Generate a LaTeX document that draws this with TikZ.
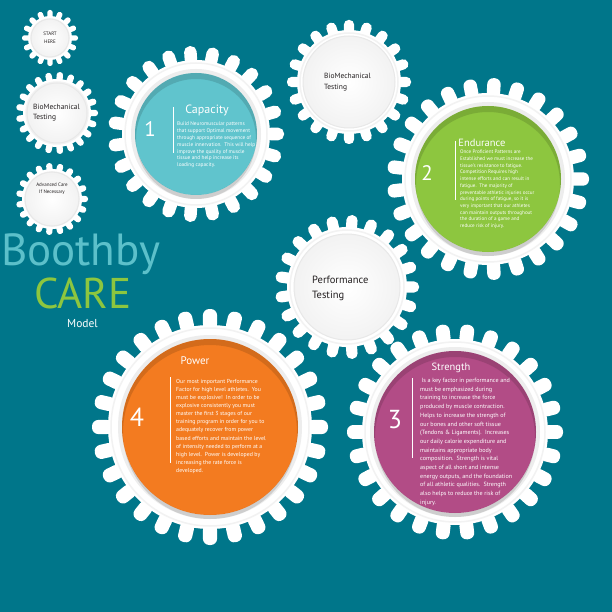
\documentclass[tikz,border=0pt]{standalone}
\usepackage{fontspec}
\setmainfont{PT Sans}
\usepackage{tikz}
\usetikzlibrary{calc}
\definecolor{bgteal}{RGB}{0,118,138}
\definecolor{capcyan}{RGB}{96,196,205}
\definecolor{endgreen}{RGB}{141,198,63}
\definecolor{poworange}{RGB}{243,123,32}
\definecolor{strmagenta}{RGB}{178,76,134}
\definecolor{brandteal}{RGB}{92,192,202}
\definecolor{darktext}{RGB}{35,31,32}
% 歯車: 中心, 歯数, 本体半径, 歯先半径
\newcommand{\cog}[4]{%
  \begin{scope}[shift={#1}]
    \pgfmathsetmacro{\cogw}{0.62*3.1416*#3/#2}
    \pgfmathsetmacro{\cogr}{0.9*\cogw}
    \fill[white] (0,0) circle (#3);
    \foreach \k in {1,...,#2}
      \fill[white,rotate=\k*360/#2,rounded corners=\cogr pt] (#3-5,-\cogw) rectangle (#4,\cogw);
    \draw[gray!10,line width=1.5pt] (0,0) circle (#3-3);
  \end{scope}}
% 色付きの円: 中心, 半径, 色
\newcommand{\stepdisk}[3]{%
  \fill[gray!14] #1 circle (#2+4);
  \fill[#3] #1 circle (#2);
  \fill[black,opacity=0.13,even odd rule] #1 circle (#2) ($#1+(0,5)$) circle (#2-1);}
% 白い円: 中心, 半径
\newcommand{\plate}[2]{%
  \shade[inner color=white,outer color=gray!10] #1 circle (#2);
  \draw[gray!18,line width=1pt] #1 circle (#2);}

\begin{document}
\begin{tikzpicture}[x=1pt,y=-1pt,
  numtext/.style={text=white,inner sep=0pt,font=\fontsize{21}{21}\selectfont},
  headtext/.style={text=white,inner sep=0pt},
  bodytext/.style={text=white,align=left,inner sep=0pt,anchor=north west},
  graytext/.style={text=darktext,inner sep=0pt}]
  % 背景
  \fill[bgteal] (0,0) rectangle (612,612);
  \useasboundingbox (0,0) rectangle (612,612);
  % 左の小さな歯車
  \cog{(50,38)}{16}{22}{28}
  \plate{(50,38)}{19}
  \cog{(57,113)}{21}{34}{41}
  \plate{(57,113)}{30}
  \cog{(52,199)}{19}{30}{36}
  \plate{(52,199)}{27}
  % 大きな歯車
  \cog{(196,134)}{23}{74}{88}
  \stepdisk{(196,134)}{61}{capcyan}
  \cog{(349,82)}{20}{52}{62}
  \plate{(349,82)}{46}
  \cog{(488,179)}{25}{86}{101}
  \stepdisk{(488,179)}{73}{endgreen}
  \cog{(347,287)}{21}{60}{72}
  \plate{(347,287)}{53}
  \cog{(210,427)}{28}{102}{118}
  \stepdisk{(210,427)}{88}{poworange}
  \cog{(455,432)}{26}{93}{108}
  \stepdisk{(455,432)}{81}{strmagenta}
  % 小さな歯車の文字
  \node[graytext,align=center,font=\fontsize{5}{8}\selectfont] (start) at (50,38) {START\\HERE};
  \node[graytext,align=left,anchor=west,font=\fontsize{7.5}{10}\selectfont] (bio-left) at (33,113) {BioMechanical\\Testing};
  \node[graytext,align=center,font=\fontsize{5}{7}\selectfont] (advanced) at (52,189) {Advanced Care\\If Necessary};
  \node[graytext,align=left,anchor=west,font=\fontsize{7.5}{11}\selectfont] (bio-top) at (324,82) {BioMechanical\\Testing};
  \node[graytext,align=left,anchor=west,font=\fontsize{10.5}{15}\selectfont] (perf) at (312,288) {Performance\\Testing};
  % タイトル
  \node[anchor=base west,inner sep=0pt,text=brandteal,font=\fontsize{45}{45}\selectfont] (brand) at (1,265) {Boothby};
  \node[anchor=base west,inner sep=0pt,text=endgreen,font=\fontsize{43}{43}\selectfont] (care) at (34,308) {CARE};
  \node[anchor=base west,inner sep=0pt,text=white,font=\fontsize{11.5}{11.5}\selectfont] (model) at (67,327) {Model};
  % 1 Capacity
  \node[numtext] (num1) at (150,129) {1};
  \node[headtext,font=\fontsize{12}{12}\selectfont] (cap-head) at (207,110) {Capacity};
  \draw[white,line width=0.7pt] (173,107) -- (173,153);
  \node[bodytext,font=\fontsize{5.3}{6.8}\selectfont] (cap-text) at (177,122)
    {Build Neuromuscular patterns\\that support Optimal movement\\through appropriate sequence of\\muscle innervation.\ \ This will help\\improve the quality of muscle\\tissue and help increase its\\loading capacity.};
  % 2 Endurance
  \node[numtext] (num2) at (427,173) {2};
  \node[headtext,font=\fontsize{10.5}{10.5}\selectfont] (end-head) at (482,143) {Endurance};
  \draw[white,line width=0.7pt] (455,141) -- (455,200);
  \node[bodytext,font=\fontsize{5.1}{6.7}\selectfont] (end-text) at (460,150)
    {Once Proficient Patterns are\\Established we must increase the\\tissue's resistance to fatigue.\\Competition Requires high\\intense efforts and can result in\\fatigue.\ \ The majority of\\preventable athletic injuries occur\\during points of fatigue, so it is\\very important that our athletes\\can maintain outputs throughout\\the duration of a game and\\reduce risk of injury.};
  % 3 Strength
  \node[numtext,font=\fontsize{26}{26}\selectfont] (num3) at (395,420) {3};
  \node[headtext,font=\fontsize{10.5}{10.5}\selectfont] (str-head) at (451,368) {Strength};
  \draw[white,line width=0.7pt] (412,378) -- (412,458);
  \node[bodytext,font=\fontsize{6.1}{8.7}\selectfont] (str-text) at (420,378)
    {\hspace{1.5pt}Is a key factor in performance and\\must be emphasized during\\training to increase the force\\produced by muscle contraction.\\Helps to increase the strength of\\our bones and other soft tissue\\(Tendons \& Ligaments).\ \ Increases\\our daily calorie expenditure and\\maintains appropriate body\\composition.\ \ Strength is vital\\aspect of all short and intense\\energy outputs, and the foundation\\of all athletic qualities.\ \ Strength\\also helps to reduce the risk of\\injury.};
  % 4 Power
  \node[numtext,font=\fontsize{26}{26}\selectfont] (num4) at (137,417) {4};
  \node[headtext,font=\fontsize{11}{11}\selectfont] (pow-head) at (195,361) {Power};
  \draw[white,line width=0.7pt] (170,377) -- (170,463);
  \node[bodytext,font=\fontsize{5.8}{8.1}\selectfont] (pow-text) at (176,379)
    {Our most important Performance\\Factor for high level athletes.\ \ You\\must be explosive!\ \ In order to be\\explosive consistently you must\\master the first 3 stages of our\\training program in order for you to\\adequately recover from power\\based efforts and maintain the level\\of intensity needed to perform at a\\high level.\ \ Power is developed by\\increasing the rate force is\\developed.};
\end{tikzpicture}
\end{document}
